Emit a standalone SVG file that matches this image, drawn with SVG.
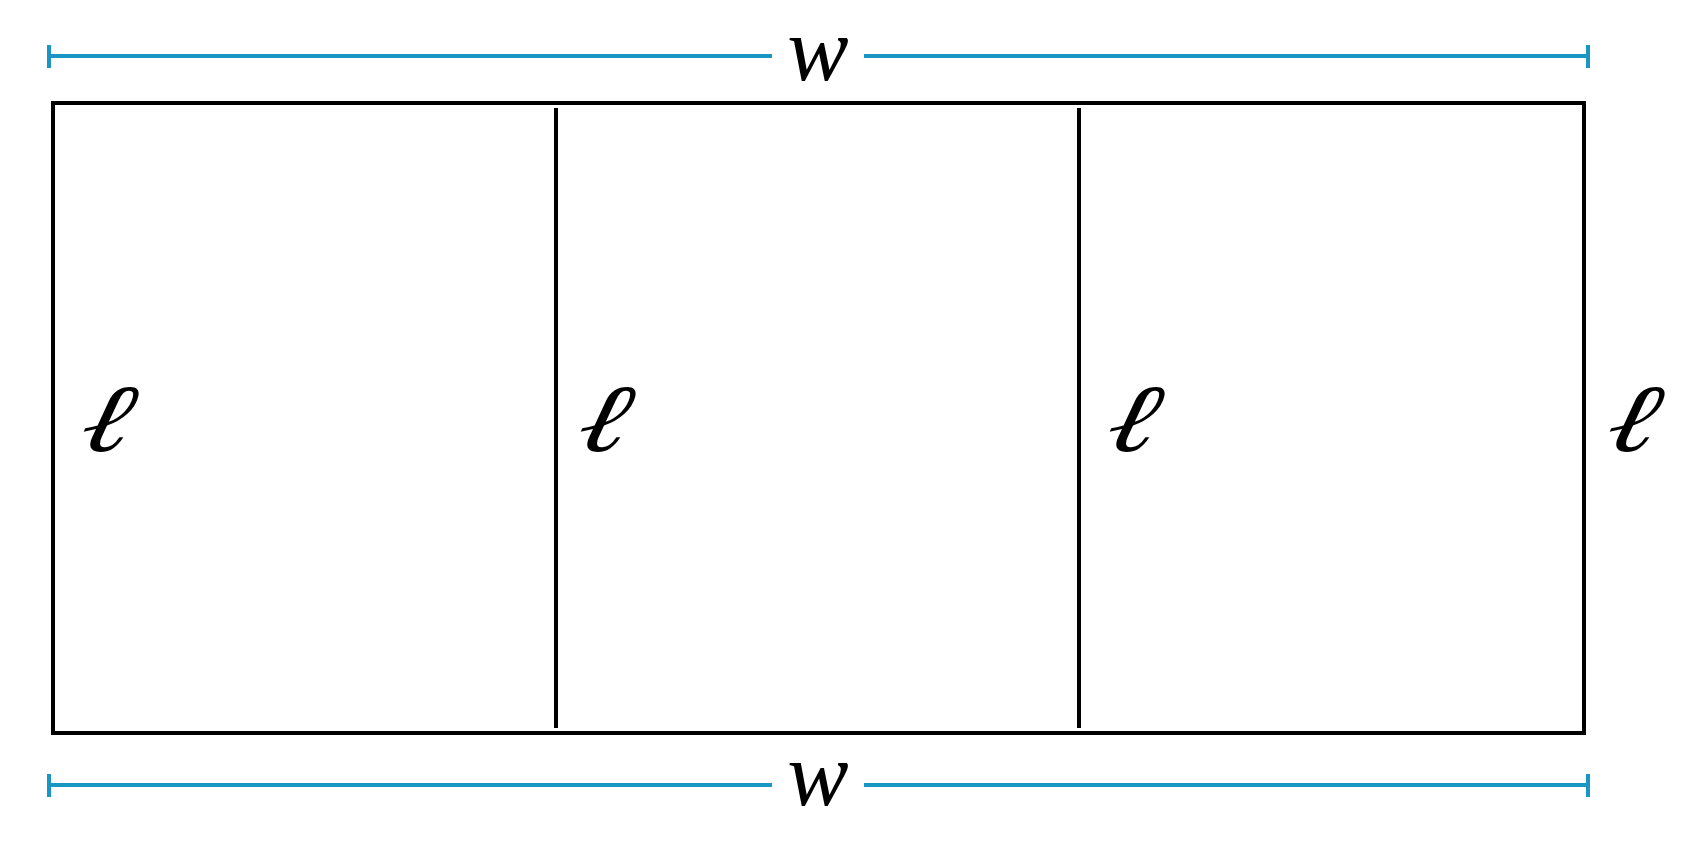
<svg xmlns="http://www.w3.org/2000/svg" width="1684" height="846" viewBox="0 0 1684 846">
<style>
.dim{stroke:#1a96c4;stroke-width:4;fill:none}
.box{stroke:#000;stroke-width:4;fill:none}
.lbl{font-family:"Liberation Serif",serif;font-style:italic;fill:#000}
.ell{font-family:"DejaVu Serif",serif;font-style:italic;fill:#000;font-size:96px}
</style>
<rect width="1684" height="846" fill="#fff"/>
<g id="connectors">
<g id="dim-top">
<line class="dim" x1="49" y1="56" x2="772" y2="56"/>
<line class="dim" x1="864" y1="56" x2="1588" y2="56"/>
<line class="dim" x1="49" y1="45" x2="49" y2="68"/>
<line class="dim" x1="1588" y1="45" x2="1588" y2="68"/>
</g>
<g id="dim-bottom">
<line class="dim" x1="49" y1="785" x2="772" y2="785"/>
<line class="dim" x1="864" y1="785" x2="1588" y2="785"/>
<line class="dim" x1="49" y1="774" x2="49" y2="797"/>
<line class="dim" x1="1588" y1="774" x2="1588" y2="797"/>
</g>
</g>
<g id="frame">
<rect class="box" x="53" y="103" width="1531" height="630"/>
<line class="box" x1="556" y1="108" x2="556" y2="728"/>
<line class="box" x1="1079" y1="108" x2="1079" y2="728"/>
</g>
<g id="label-w-top"><text class="lbl" x="818" y="80" font-size="92" text-anchor="middle">w</text></g>
<g id="label-w-bottom"><text class="lbl" x="818" y="805" font-size="92" text-anchor="middle">w</text></g>
<g id="label-l1" transform="translate(101,451) skewX(-14) scale(1.22,1)"><text class="ell" x="0" y="0" text-anchor="middle">ℓ</text></g>
<g id="label-l2" transform="translate(598,451) skewX(-14) scale(1.22,1)"><text class="ell" x="0" y="0" text-anchor="middle">ℓ</text></g>
<g id="label-l3" transform="translate(1127,451) skewX(-14) scale(1.22,1)"><text class="ell" x="0" y="0" text-anchor="middle">ℓ</text></g>
<g id="label-l4" transform="translate(1627,451) skewX(-14) scale(1.22,1)"><text class="ell" x="0" y="0" text-anchor="middle">ℓ</text></g>
</svg>
